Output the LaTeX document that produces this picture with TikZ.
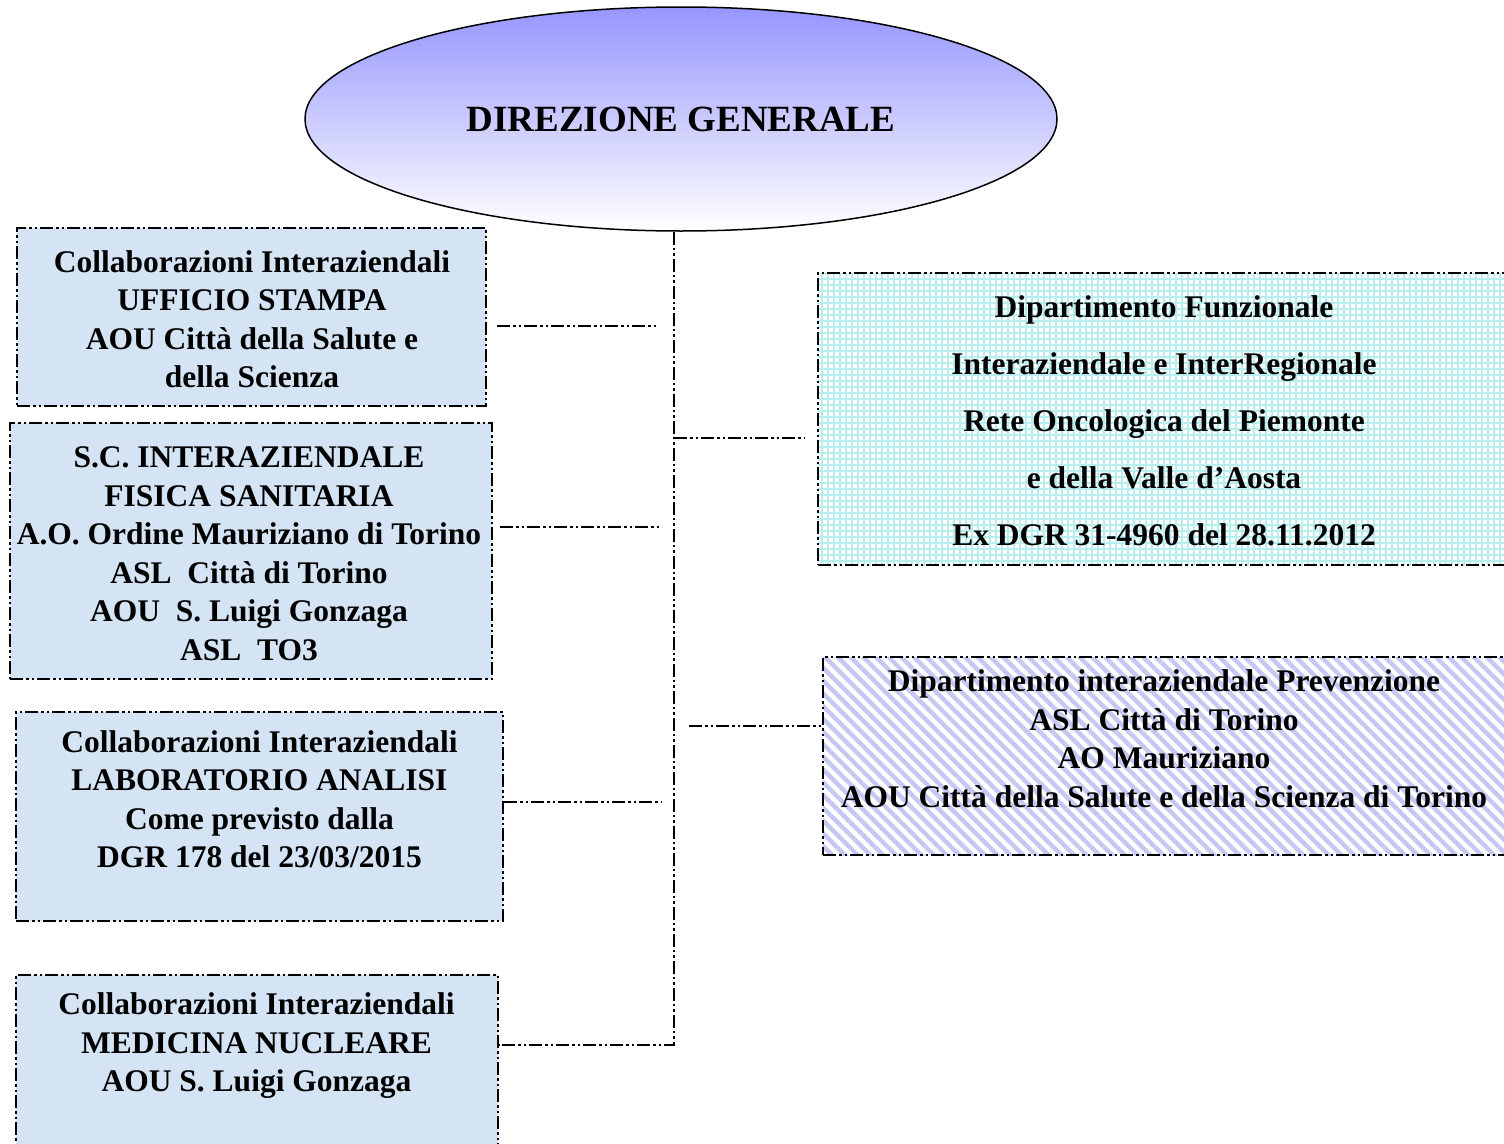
\documentclass[tikz,border=0pt]{standalone}
\usepackage{fontspec}
\setmainfont{Liberation Serif}
\usetikzlibrary{shapes.geometric,patterns.meta}
\definecolor{leftfill}{RGB}{212,228,244}
\definecolor{gridcol}{RGB}{185,238,240}
\definecolor{stripecol}{RGB}{198,200,244}
\definecolor{elltop}{RGB}{150,150,255}
\begin{document}
\begin{tikzpicture}[x=1pt,y=-1pt,
  ddd/.style={line width=2.1pt, dash pattern=on 13pt off 3pt on 2.5pt off 3pt on 2.5pt off 3pt},
  leftbox/.style={ddd, draw=black, fill=leftfill, inner sep=0pt},
  gridbox/.style={ddd, draw=black, inner sep=0pt, preaction={fill=white},
     pattern={Hatch[distance=6pt, line width=1.6pt]}, pattern color=gridcol},
  stripebox/.style={ddd, draw=black, inner sep=0pt, preaction={fill=white},
     pattern={Lines[angle=-45, distance=9pt, line width=4.4pt]}, pattern color=stripecol},
  txt/.style={font=\bfseries\fontsize{31.5}{38.5}\selectfont, align=center, inner sep=0pt},
  wide/.style={font=\bfseries\fontsize{31.5}{57}\selectfont, align=center, inner sep=0pt},
]
\useasboundingbox (0,0) rectangle (1504,1143);
\clip (0,0) rectangle (1504,1143);
\fill[white] (0,0) rectangle (1504,1143);

% head
\node[ellipse, draw=black, line width=1.5pt, minimum width=752pt, minimum height=224pt,
      top color=elltop, bottom color=white, inner sep=0pt,
      font=\bfseries\fontsize{37}{44}\selectfont] (dg) at (681,119) {DIREZIONE GENERALE};

% left boxes
\node[leftbox, minimum width=469pt, minimum height=178pt] (b1) at (251.5,317) {};
\node[leftbox, minimum width=482pt, minimum height=256pt] (b2) at (251,551) {};
\node[leftbox, minimum width=487pt, minimum height=209pt] (b3) at (259.5,816.5) {};
\node[leftbox, minimum width=482pt, minimum height=185pt] (b4) at (257,1067.5) {};

% right boxes
\node[gridbox, minimum width=702pt, minimum height=292pt] (r1) at (1169,419) {};
\node[stripebox, minimum width=697pt, minimum height=198pt] (r2) at (1171.5,756) {};

% texts
\node[txt] (t1) at (252,319) {Collaborazioni Interaziendali\\UFFICIO STAMPA\\AOU Città della Salute e\\della Scienza};
\node[txt] (t2) at (249,553.5) {S.C. INTERAZIENDALE\\FISICA SANITARIA\\A.O. Ordine Mauriziano di Torino\\ASL\ \ Città di Torino\\AOU\ \ S. Luigi Gonzaga\\ASL\ \ TO3};
\node[txt] (t3) at (259.5,799) {Collaborazioni Interaziendali\\LABORATORIO ANALISI\\Come previsto dalla\\DGR 178 del 23/03/2015};
\node[txt] (t4) at (256.5,1046) {Collaborazioni Interaziendali\\MEDICINA NUCLEARE\\AOU S. Luigi Gonzaga};
\node[wide] (t5) at (1164,420.5) {Dipartimento Funzionale\\Interaziendale e InterRegionale\\Rete Oncologica del Piemonte\\e della Valle d’Aosta\\Ex DGR 31-4960 del 28.11.2012};
\node[txt] (t6) at (1164,739) {Dipartimento interaziendale Prevenzione\\ASL Città di Torino\\AO Mauriziano\\AOU Città della Salute e della Scienza di Torino};

% connectors
\coordinate (tk) at (674,1045);
\draw[ddd] (tk |- dg.south) -- (tk) -- (tk -| b4.east);

\coordinate (j1) at (674,438);
\coordinate (e1) at (805,438);
\draw[ddd] (j1) -- (e1);

\coordinate (s2) at (689,726);
\draw[ddd] (s2) -- (s2 -| r2.west);

\coordinate (a1) at (497,326);
\coordinate (c1) at (658,326);
\draw[ddd] (a1) -- (c1);

\coordinate (a2) at (500,527);
\coordinate (c2) at (662,527);
\draw[ddd] (a2) -- (c2);

\coordinate (c3) at (662,802);
\draw[ddd] (c3 -| b3.east) -- (c3);
\end{tikzpicture}
\end{document}
